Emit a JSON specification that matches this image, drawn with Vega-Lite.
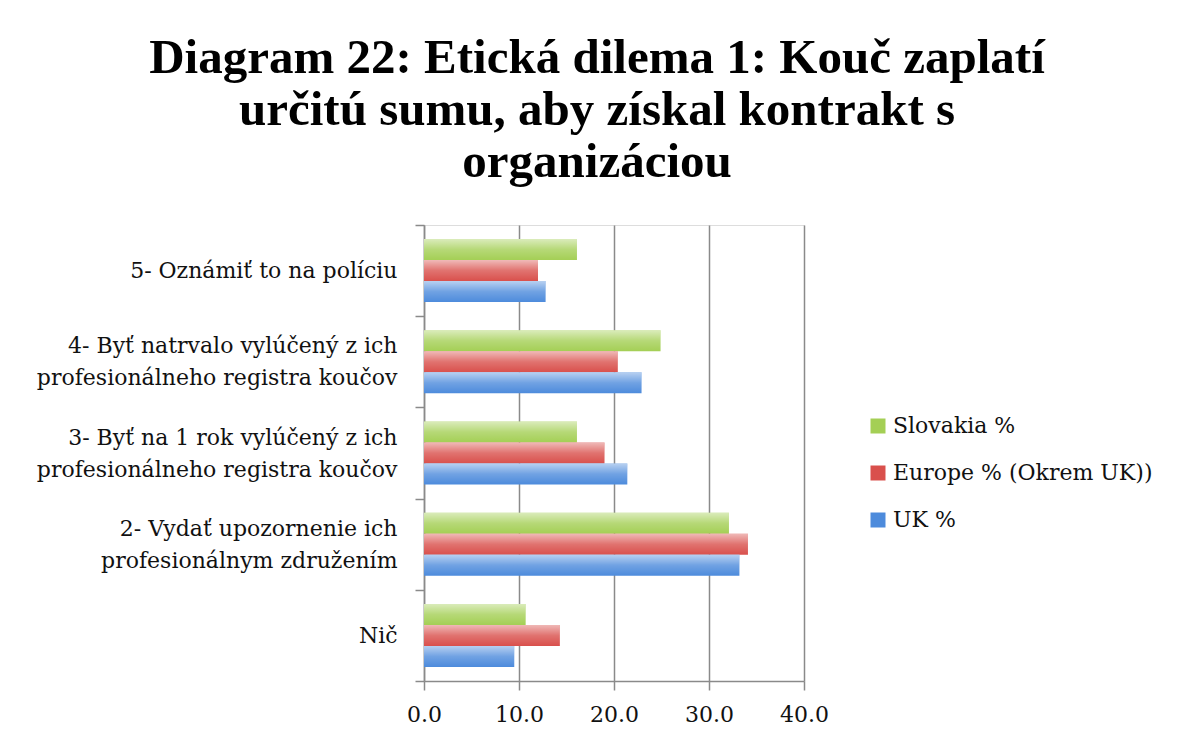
{
  "$schema": "https://vega.github.io/schema/vega-lite/v6.json",
  "width": 380,
  "height": 456,
  "autosize": {"type": "none"},
  "padding": {"left": 424, "top": 225, "right": 378, "bottom": 61},
  "background": "white",
  "title": {
    "text": ["Diagram 22: Etická dilema 1: Kouč zaplatí", "určitú sumu, aby získal kontrakt s", "organizáciou"],
    "font": "Liberation Serif",
    "fontWeight": "bold",
    "fontSize": 49,
    "lineHeight": 52,
    "color": "#000000",
    "anchor": "middle",
    "frame": "group",
    "dx": -17,
    "offset": 27
  },
  "data": {
    "values": [
      {"category": "5- Oznámiť to  na políciu", "series": "Slovakia %", "value": 16.1},
      {"category": "5- Oznámiť to  na políciu", "series": "Europe % (Okrem UK))", "value": 12.0},
      {"category": "5- Oznámiť to  na políciu", "series": "UK %", "value": 12.8},
      {"category": "4- Byť natrvalo vylúčený z ich\nprofesionálneho registra koučov", "series": "Slovakia %", "value": 24.9},
      {"category": "4- Byť natrvalo vylúčený z ich\nprofesionálneho registra koučov", "series": "Europe % (Okrem UK))", "value": 20.4},
      {"category": "4- Byť natrvalo vylúčený z ich\nprofesionálneho registra koučov", "series": "UK %", "value": 22.9},
      {"category": "3- Byť na 1 rok vylúčený z ich\nprofesionálneho registra koučov", "series": "Slovakia %", "value": 16.1},
      {"category": "3- Byť na 1 rok vylúčený z ich\nprofesionálneho registra koučov", "series": "Europe % (Okrem UK))", "value": 19.0},
      {"category": "3- Byť na 1 rok vylúčený z ich\nprofesionálneho registra koučov", "series": "UK %", "value": 21.4},
      {"category": "2- Vydať upozornenie ich\nprofesionálnym združením", "series": "Slovakia %", "value": 32.1},
      {"category": "2- Vydať upozornenie ich\nprofesionálnym združením", "series": "Europe % (Okrem UK))", "value": 34.1},
      {"category": "2- Vydať upozornenie ich\nprofesionálnym združením", "series": "UK %", "value": 33.2},
      {"category": "Nič", "series": "Slovakia %", "value": 10.7},
      {"category": "Nič", "series": "Europe % (Okrem UK))", "value": 14.3},
      {"category": "Nič", "series": "UK %", "value": 9.5}
    ]
  },
  "encoding": {
    "y": {
      "field": "category",
      "type": "nominal",
      "sort": null,
      "scale": {"paddingInner": 0, "paddingOuter": 0},
      "axis": {
        "title": null,
        "labelExpr": "split(datum.label, '\\n')",
        "labelFont": "DejaVu Serif",
        "labelFontSize": 22,
        "labelLineHeight": 32,
        "labelColor": "#111111",
        "labelPadding": 18,
        "labelLimit": 500,
        "labelOffset": {"condition": {"test": "length(datum.label) > 30", "value": -16}, "value": 0},
        "tickBand": "extent",
        "tickSize": 9,
        "tickColor": "#8a8a8a",
        "tickWidth": 1.5,
        "domainColor": "#8a8a8a",
        "domainWidth": 1.5,
        "grid": false
      }
    },
    "yOffset": {
      "field": "series",
      "type": "nominal",
      "sort": ["Slovakia %", "Europe % (Okrem UK))", "UK %"],
      "scale": {"paddingInner": 0, "paddingOuter": 0.67}
    },
    "x": {
      "field": "value",
      "type": "quantitative",
      "scale": {"domain": [0, 40], "nice": false, "zero": true},
      "axis": {
        "title": null,
        "values": [0, 10, 20, 30, 40],
        "format": ".1f",
        "labelFont": "DejaVu Serif",
        "labelFontSize": 22,
        "labelColor": "#111111",
        "labelPadding": 14,
        "tickSize": 9,
        "tickColor": "#8a8a8a",
        "tickWidth": 1.5,
        "domainColor": "#8a8a8a",
        "domainWidth": 1.5,
        "grid": true,
        "gridColor": "#8a8a8a",
        "gridWidth": 1.5,
        "labelFlush": false
      }
    }
  },
  "layer": [
    {
      "mark": {"type": "bar"},
      "encoding": {
        "color": {
          "field": "series",
          "type": "nominal",
          "scale": {
            "domain": ["Slovakia %", "Europe % (Okrem UK))", "UK %"],
            "range": ["#a4cf55", "#d9504c", "#4d8bdc"]
          },
          "legend": {
            "title": null,
            "orient": "none",
            "legendX": 443,
            "legendY": 190,
            "symbolType": "square",
            "symbolSize": 225,
            "symbolStrokeWidth": 0,
            "labelFont": "DejaVu Serif",
            "labelFontSize": 22,
            "labelLimit": 500,
            "labelColor": "#111111",
            "labelOffset": 4,
            "rowPadding": 25,
            "padding": 0
          }
        }
      }
    },
    {
      "mark": {
        "type": "bar",
        "fill": {
          "gradient": "linear",
          "x1": 0, "y1": 0, "x2": 0, "y2": 1,
          "stops": [
            {"offset": 0, "color": "rgba(255,255,255,0.6)"},
            {"offset": 0.5, "color": "rgba(255,255,255,0.2)"},
            {"offset": 1, "color": "rgba(255,255,255,0)"}
          ]
        }
      }
    }
  ]
}
